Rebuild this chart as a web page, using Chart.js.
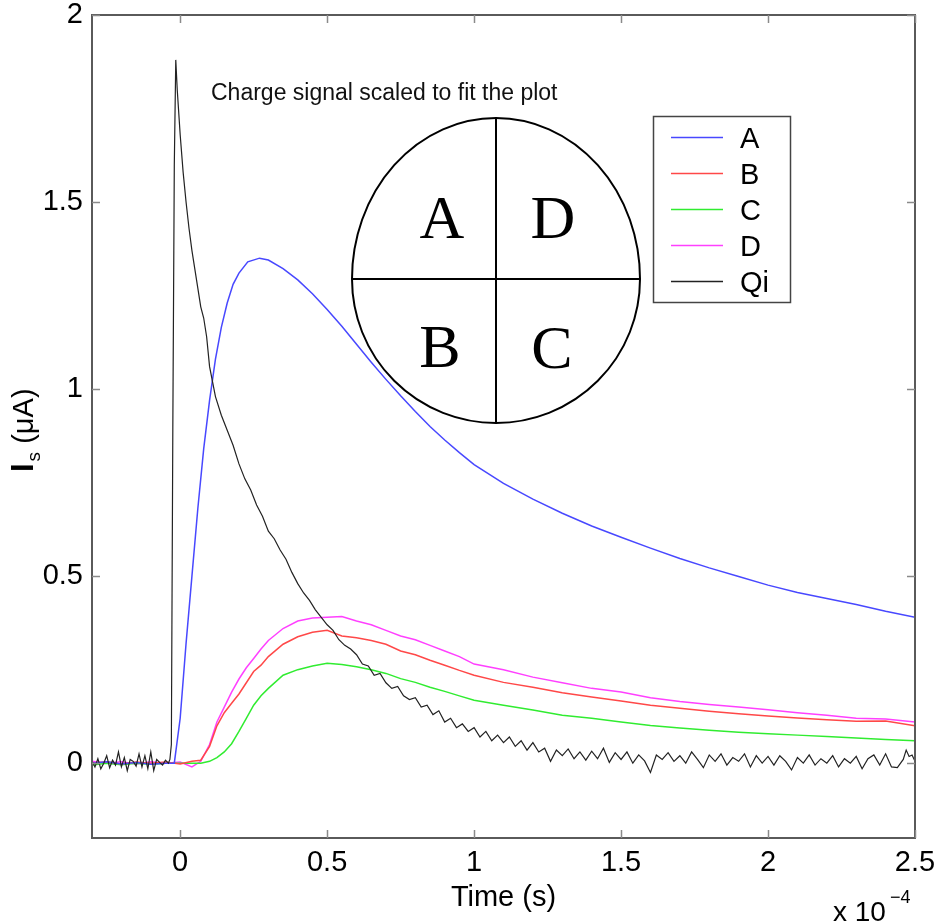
<!DOCTYPE html>
<html>
<head>
<meta charset="utf-8">
<style>
  html, body { margin: 0; padding: 0; background: #fff; }
  canvas { display: block; }
</style>
<script src="https://cdn.jsdelivr.net/npm/chart.js@4.4.1/dist/chart.umd.min.js"></script>
</head>
<body>
<canvas id="c" width="937" height="924"></canvas>
<script>
// ---------- data (time in units of 1e-4 s, current in uA) ----------
const xTicks = [0, 0.5, 1, 1.5, 2, 2.5];
const yTicks = [0, 0.5, 1, 1.5, 2];

const tA = [-0.30,-0.25,-0.20,-0.15,-0.10,-0.05,-0.02,
  0.00,0.02,0.04,0.06,0.08,0.10,0.12,0.14,0.16,0.18,0.20,
  0.23,0.27,0.30,
  0.35,0.40,0.45,0.50,0.55,0.60,0.65,0.70,0.75,0.80,0.85,0.90,0.95,1.00,
  1.10,1.20,1.30,1.40,1.50,1.60,1.70,1.80,1.90,2.00,2.10,2.20,2.30,2.40,2.50];
const iA = [0.000,0.004,-0.002,0.002,-0.003,0.000,0.000,
  0.120,0.320,0.500,0.680,0.840,0.970,1.080,1.165,1.230,1.280,1.310,
  1.340,1.350,1.345,
  1.322,1.292,1.255,1.213,1.168,1.120,1.072,1.026,0.982,0.940,0.900,0.864,0.830,0.798,
  0.748,0.706,0.668,0.634,0.604,0.575,0.547,0.522,0.499,0.476,0.456,0.440,0.424,0.406,0.390];

const tBCD = [-0.30,-0.25,-0.20,-0.15,-0.10,-0.05,0.00,0.04,0.07,0.10,
  0.125,0.15,0.175,0.20,0.225,0.25,0.275,0.30,0.35,0.40,
  0.45,0.50,0.55,0.60,0.65,0.70,0.75,0.80,0.85,0.90,
  0.95,1.00,1.10,1.20,1.30,1.40,1.50,1.60,1.70,1.80,
  1.90,2.00,2.10,2.20,2.30,2.40,2.50];
const iB = [0.000,0.004,-0.002,0.003,0.000,0.003,-0.002,0.005,0.008,0.045,
  0.100,0.135,0.160,0.185,0.215,0.245,0.262,0.285,0.318,0.338,
  0.350,0.355,0.340,0.335,0.328,0.318,0.300,0.290,0.275,0.262,
  0.248,0.235,0.216,0.203,0.188,0.177,0.166,0.155,0.147,0.139,
  0.132,0.126,0.121,0.116,0.112,0.113,0.100];
const iC = [-0.005,0.000,-0.004,0.000,-0.003,0.000,0.000,0.000,0.000,0.005,
  0.015,0.030,0.052,0.085,0.120,0.155,0.180,0.200,0.235,0.250,
  0.260,0.267,0.264,0.258,0.250,0.240,0.226,0.216,0.203,0.192,
  0.180,0.168,0.155,0.142,0.128,0.120,0.110,0.101,0.094,0.088,
  0.083,0.079,0.075,0.071,0.067,0.063,0.060];
const iD = [0.005,0.000,0.004,-0.002,0.004,0.000,0.003,-0.010,0.005,0.050,
  0.110,0.150,0.190,0.225,0.255,0.280,0.305,0.328,0.360,0.380,
  0.388,0.390,0.392,0.380,0.370,0.355,0.340,0.330,0.315,0.300,
  0.285,0.265,0.250,0.230,0.215,0.200,0.190,0.175,0.165,0.157,
  0.150,0.143,0.135,0.128,0.120,0.118,0.110];

const tQ = [-0.30,-0.29,-0.28,-0.27,-0.26,-0.25,-0.24,-0.23,-0.22,-0.21,
  -0.20,-0.19,-0.18,-0.17,-0.16,-0.15,-0.14,-0.13,-0.12,-0.11,
  -0.10,-0.09,-0.08,-0.07,-0.06,-0.05,-0.04,-0.035,-0.03,-0.025,
  -0.02,-0.015,-0.01,0.00,0.01,0.02,0.03,0.04,0.05,0.06,
  0.07,0.08,0.09,0.10,0.11,0.12,0.14,0.16,0.18,0.20,
  0.22,0.24,0.26,0.28,0.30,0.32,0.34,0.36,0.38,0.40,
  0.42,0.44,0.46,0.48,0.50,0.52,0.54,0.56,0.58,0.60,
  0.62,0.64,0.66,0.68,0.70,0.72,0.74,0.76,0.78,0.80,
  0.82,0.84,0.86,0.88,0.90,0.92,0.94,0.96,0.98,1.00,
  1.02,1.04,1.06,1.08,1.10,1.12,1.14,1.16,1.18,1.20,
  1.22,1.24,1.26,1.28,1.30,1.32,1.34,1.36,1.38,1.40,
  1.42,1.44,1.46,1.48,1.50,1.52,1.54,1.56,1.58,1.60,
  1.62,1.64,1.66,1.68,1.70,1.72,1.74,1.76,1.78,1.80,
  1.82,1.84,1.86,1.88,1.90,1.92,1.94,1.96,1.98,2.00,
  2.02,2.04,2.06,2.08,2.10,2.12,2.14,2.16,2.18,2.20,
  2.22,2.24,2.26,2.28,2.30,2.32,2.34,2.36,2.38,2.40,
  2.42,2.44,2.46,2.47,2.48,2.49,2.50];
const iQ = [0.005,-0.010,0.012,-0.015,0.000,0.020,-0.012,0.008,-0.005,0.030,
  -0.010,0.015,-0.020,0.010,0.005,-0.008,0.025,-0.010,0.020,-0.015,
  0.030,-0.020,0.010,0.002,-0.005,0.008,0.000,0.010,0.050,0.900,
  1.600,1.880,1.800,1.680,1.580,1.500,1.430,1.370,1.320,1.270,
  1.220,1.190,1.140,1.060,1.020,0.980,0.930,0.890,0.850,0.800,
  0.760,0.730,0.690,0.660,0.620,0.600,0.570,0.545,0.510,0.480,
  0.455,0.435,0.410,0.390,0.370,0.355,0.330,0.315,0.305,0.290,
  0.265,0.260,0.235,0.240,0.215,0.200,0.205,0.180,0.170,0.175,
  0.150,0.155,0.130,0.140,0.110,0.120,0.095,0.105,0.085,0.095,
  0.070,0.085,0.060,0.075,0.055,0.070,0.045,0.060,0.035,0.055,
  0.030,0.040,0.005,0.035,0.020,0.038,0.012,0.030,0.008,0.032,
  0.012,0.040,0.002,0.028,0.010,0.030,0.000,0.022,0.006,-0.025,
  0.022,0.010,0.028,0.005,0.020,0.000,0.030,0.010,-0.012,0.022,
  0.005,0.025,-0.005,0.015,0.005,0.025,-0.010,0.020,0.000,0.018,
  -0.005,0.020,0.005,-0.018,0.015,0.000,0.022,-0.005,0.012,0.000,
  0.020,-0.010,0.012,0.000,0.018,-0.015,0.012,0.022,-0.005,0.025,
  -0.010,-0.012,0.010,0.035,0.018,0.022,0.005];

const SERIES = [
  { label: 'A',  t: tA,   v: iA, color: '#4848ff' },
  { label: 'B',  t: tBCD, v: iB, color: '#ff4848' },
  { label: 'C',  t: tBCD, v: iC, color: '#30ec30' },
  { label: 'D',  t: tBCD, v: iD, color: '#ff40ff' },
  { label: 'Qi', t: tQ,   v: iQ, color: '#222222' },
];

const SANS = "'Liberation Sans', Arial, Helvetica, sans-serif";
const SERIF = "'Liberation Serif', 'Times New Roman', serif";

// ---------- frame, inward ticks, legend, sketch and labels ----------
function seg(ctx, x1, y1, x2, y2) {
  ctx.beginPath(); ctx.moveTo(x1, y1); ctx.lineTo(x2, y2); ctx.stroke();
}

const overlay = {
  id: 'overlay',
  afterDraw(chart) {
    const { ctx, chartArea: a, scales: { x, y } } = chart;
    ctx.save();

    // axes box
    ctx.strokeStyle = '#5a5a5a';
    ctx.lineWidth = 2;
    ctx.strokeRect(a.left, a.top, a.right - a.left, a.bottom - a.top);

    // ticks pointing inward on all four sides
    ctx.strokeStyle = '#8a8a8a';
    ctx.lineWidth = 1.5;
    xTicks.forEach(v => {
      const px = Math.round(x.getPixelForValue(v)) + 0.5;
      seg(ctx, px, a.bottom, px, a.bottom - 8);
      seg(ctx, px, a.top, px, a.top + 8);
    });
    yTicks.forEach(v => {
      const py = Math.round(y.getPixelForValue(v)) + 0.5;
      seg(ctx, a.left, py, a.left + 8, py);
      seg(ctx, a.right, py, a.right - 8, py);
    });

    // note above the sketch
    ctx.fillStyle = '#111';
    ctx.font = '23px ' + SANS;
    ctx.textAlign = 'left';
    ctx.textBaseline = 'alphabetic';
    ctx.fillText('Charge signal scaled to fit the plot', 211, 100);

    // quadrant detector sketch
    const cx = 496, cy = 279;
    ctx.fillStyle = '#fff';
    ctx.strokeStyle = '#000';
    ctx.lineWidth = 2;
    ctx.beginPath();
    ctx.ellipse(cx, cy, 144, 161, 0, Math.PI, 2 * Math.PI);
    ctx.ellipse(cx, cy, 144, 144, 0, 0, Math.PI);
    ctx.closePath();
    ctx.fill();
    ctx.stroke();
    seg(ctx, cx - 144, cy, cx + 144, cy);
    seg(ctx, cx, cy - 161, cx, cy + 144);
    ctx.fillStyle = '#000';
    ctx.font = '62px ' + SERIF;
    ctx.textAlign = 'center';
    ctx.fillText('A', 442, 238);
    ctx.fillText('D', 553, 238);
    ctx.fillText('B', 440, 367);
    ctx.fillText('C', 552, 368);

    // legend
    const lx = 653, ly = 116, lw = 137, lh = 186;
    ctx.fillStyle = '#fff';
    ctx.fillRect(lx, ly, lw, lh);
    ctx.strokeStyle = '#444';
    ctx.lineWidth = 1.5;
    ctx.strokeRect(lx + 0.5, ly + 0.5, lw, lh);
    ctx.font = '29px ' + SANS;
    ctx.textAlign = 'left';
    SERIES.forEach((s, i) => {
      const ry = 137 + i * 36;
      ctx.strokeStyle = s.color;
      ctx.lineWidth = 1.5;
      seg(ctx, 671, ry + 0.5, 723, ry + 0.5);
      ctx.fillStyle = '#000';
      ctx.fillText(s.label, 740, ry + 10.5);
    });

    // y axis title: I_s (uA), rotated
    ctx.translate(33, 472);
    ctx.rotate(-Math.PI / 2);
    ctx.fillStyle = '#000';
    ctx.font = 'bold 31px ' + SANS;
    ctx.fillText('I', 0, 0);
    let w = ctx.measureText('I').width + 2;
    ctx.font = '19px ' + SANS;
    ctx.fillText('s', w, 7);
    w += ctx.measureText('s').width;
    ctx.font = '29px ' + SANS;
    ctx.fillText(' (\u03bcA)', w, 0);
    ctx.setTransform(1, 0, 0, 1, 0, 0);

    // exponent of the time axis
    ctx.font = '28px ' + SANS;
    ctx.fillText('x 10', 833, 921);
    ctx.font = '18px ' + SANS;
    ctx.fillText('\u22124', 890, 903);

    ctx.restore();
  }
};

// ---------- chart ----------
const tickFont = { family: SANS, size: 29, lineHeight: 1 };

new Chart(document.getElementById('c'), {
  type: 'line',
  data: {
    datasets: SERIES.map(s => ({
      label: s.label,
      data: s.t.map((t, i) => ({ x: t, y: s.v[i] })),
      borderColor: s.color,
      borderWidth: s.label === 'Qi' ? 1.2 : 1.5,
      pointRadius: 0,
      tension: 0,
      fill: false,
      order: s.label === 'Qi' ? 0 : 1,
    })),
  },
  options: {
    responsive: false,
    devicePixelRatio: 1,
    animation: false,
    layout: { padding: { top: 15, right: 22, left: 0, bottom: 0 } },
    plugins: { legend: { display: false }, tooltip: { enabled: false } },
    scales: {
      x: {
        type: 'linear',
        min: -0.3,
        max: 2.5,
        afterBuildTicks: s => { s.ticks = xTicks.map(v => ({ value: v })); },
        afterFit: s => { s.height = 86; s.paddingLeft = 0; s.paddingRight = 0; },
        grid: { display: false, drawTicks: false },
        border: { display: false },
        ticks: { font: tickFont, color: '#000', padding: 10, maxRotation: 0, callback: v => String(v) },
        title: {
          display: true,
          text: 'Time (s)',
          color: '#000',
          font: { family: SANS, size: 29, lineHeight: 1 },
          padding: { top: 0, bottom: 12 },
        },
      },
      y: {
        type: 'linear',
        min: -0.2,
        max: 2,
        afterBuildTicks: s => { s.ticks = yTicks.map(v => ({ value: v })); },
        afterFit: s => { s.width = 92; s.paddingTop = 0; s.paddingBottom = 0; },
        grid: { display: false, drawTicks: false },
        border: { display: false },
        ticks: { font: tickFont, color: '#000', padding: 9, callback: v => String(v) },
      },
    },
  },
  plugins: [overlay],
});
</script>
</body>
</html>
